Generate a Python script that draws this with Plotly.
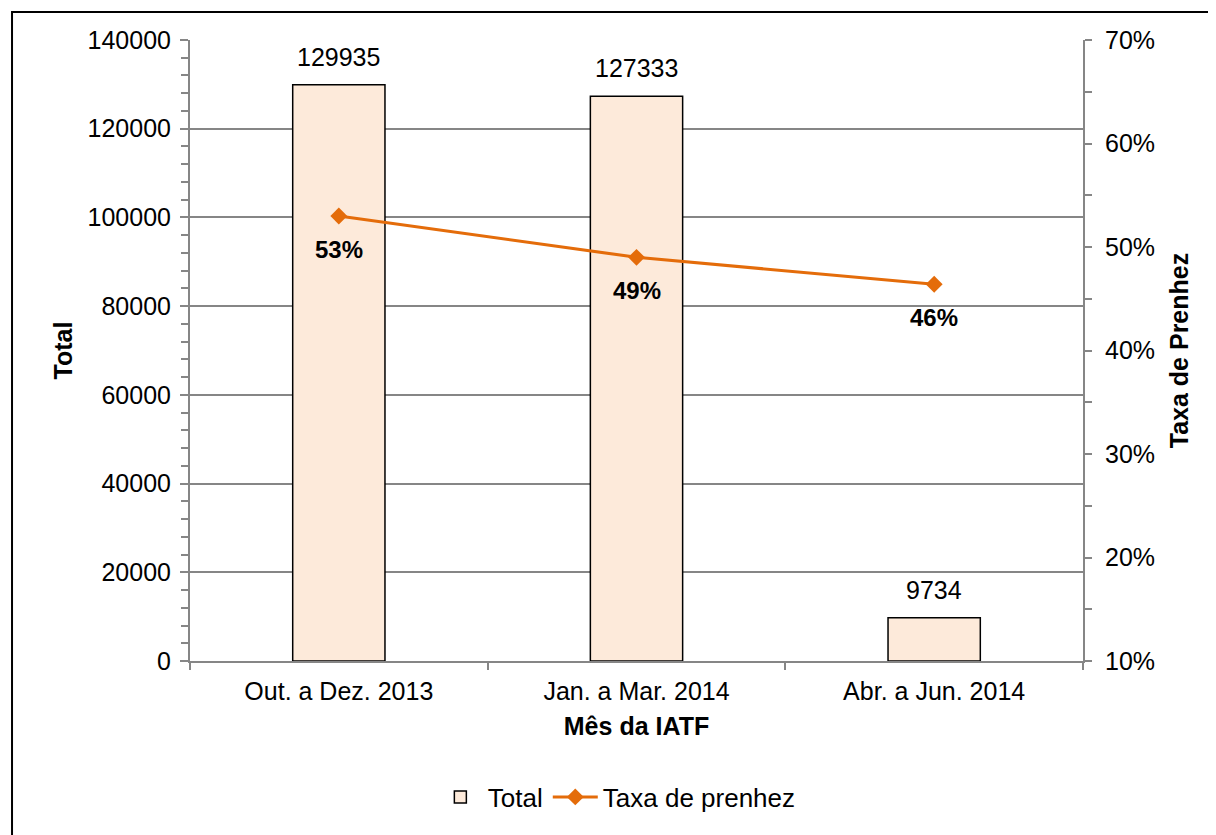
import plotly.graph_objects as go

# data
meses = ["Out. a Dez. 2013", "Jan. a Mar. 2014", "Abr. a Jun. 2014"]
total = [129935, 127333, 9734]
taxa_prenhez = [0.530, 0.490, 0.464]
taxa_labels = ["53%", "49%", "46%"]

FONT = "Liberation Sans, Arial, sans-serif"
GRAY = "#868686"
ORANGE = "#E46C0A"

fig = go.Figure()

fig.add_trace(go.Bar(
    x=meses, y=total, name="Total",
    marker=dict(color="#FDEADA", line=dict(color="black", width=1.5)),
    width=0.31,
))

fig.add_trace(go.Scatter(
    x=meses, y=taxa_prenhez, name="Taxa de prenhez", yaxis="y2",
    mode="lines+markers",
    line=dict(color=ORANGE, width=3),
    marker=dict(symbol="diamond", size=13, color=ORANGE),
))

annotations = []
for m, v in zip(meses, total):
    annotations.append(dict(x=m, y=v, xref="x", yref="y", text=str(v),
                            showarrow=False, yanchor="bottom", yshift=12,
                            font=dict(size=25, color="black", family=FONT)))
for m, v, t in zip(meses, taxa_prenhez, taxa_labels):
    annotations.append(dict(x=m, y=v, xref="x", yref="y2", text="<b>%s</b>" % t,
                            showarrow=False, yanchor="top", yshift=-18,
                            font=dict(size=24, color="black", family=FONT)))

fig.update_layout(
    width=1216, height=835,
    margin=dict(l=182, r=141, t=32, b=182),
    paper_bgcolor="white", plot_bgcolor="white",
    font=dict(family=FONT, size=25, color="black"),
    showlegend=True,
    legend=dict(orientation="h", x=0.478, y=-0.219, xanchor="center", yanchor="middle",
                font=dict(size=26), traceorder="normal", itemwidth=45),
    annotations=annotations,
    xaxis=dict(
        type="category", tickson="boundaries",
        showline=True, linecolor=GRAY, linewidth=2,
        ticks="outside", ticklen=7, tickcolor=GRAY, tickwidth=2,
        showgrid=False,
        tickfont=dict(size=25), ticklabelstandoff=7,
        title=dict(text="<b>Mês da IATF</b>", font=dict(size=25), standoff=13),
    ),
    yaxis=dict(
        range=[0, 140000], dtick=20000, tickformat="d",
        showline=True, linecolor=GRAY, linewidth=2,
        ticks="outside", ticklen=8, tickcolor=GRAY, tickwidth=2,
        showgrid=True, gridcolor=GRAY, gridwidth=1.5,
        minor=dict(dtick=4000, ticks="outside", ticklen=7, tickcolor=GRAY, tickwidth=1.5, showgrid=False),
        zeroline=False,
        tickfont=dict(size=25), ticklabelstandoff=4,
        title=dict(text="<b>Total</b>", font=dict(size=25), standoff=8),
    ),
    yaxis2=dict(
        overlaying="y", side="right",
        range=[0.1, 0.7], dtick=0.1, tickformat=".0%",
        showline=True, linecolor=GRAY, linewidth=2,
        ticks="outside", ticklen=7, tickcolor=GRAY, tickwidth=2,
        minor=dict(dtick=0.05, ticks="outside", ticklen=7, tickcolor=GRAY, tickwidth=1.5, showgrid=False),
        showgrid=False, zeroline=False,
        tickfont=dict(size=25), ticklabelstandoff=8,
        title=dict(text="<b>Taxa de Prenhez</b>", font=dict(size=25), standoff=16),
    ),
    shapes=[dict(type="rect", xref="paper", yref="paper",
                 x0=-0.1993, x1=1.16, y0=-0.29, y1=1.0451,
                 line=dict(color="black", width=2), layer="below")],
)

fig.write_html("out.html")
